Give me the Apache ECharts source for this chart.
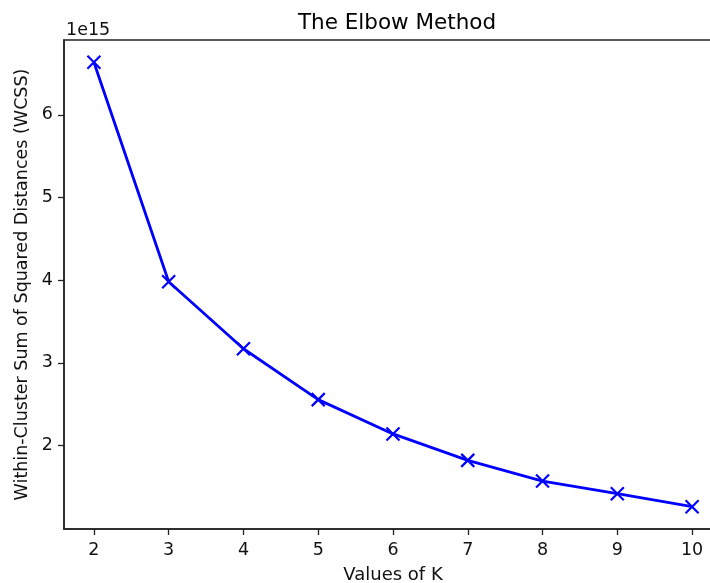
<!DOCTYPE html>
<html lang="en">
<head>
    <meta charset="UTF-8">
    <title>The Elbow Method</title>
    <script src="https://cdn.jsdelivr.net/npm/echarts@6/dist/echarts.min.js"></script>
    <style type="text/css">
        html, body {
            margin: 0;
            padding: 0;
            background: #fff;
        }

        #elbow-chart {
            width: 710px;
            height: 583px;
        }
    </style>
</head>
<body>
<div id="elbow-chart"></div>
<script type="text/javascript">
    // K values tried and the WCSS for each one (in units of 1e15)
    const kValues = [2, 3, 4, 5, 6, 7, 8, 9, 10];
    const wcss = [6.636, 3.98, 3.17, 2.555, 2.14, 1.82, 1.57, 1.417, 1.26];
    const xTicks = [2, 3, 4, 5, 6, 7, 8, 9, 10];
    const yTicks = [2, 3, 4, 5, 6];
    const xRange = [1.6, 10.4];
    const yRange = [0.99, 6.905];
    const offsetText = "1e15";

    const FONT = "DejaVu Sans";
    const chart = echarts.init(document.getElementById("elbow-chart"));

    const points = kValues.map((k, i) => [k, wcss[i]]);

    chart.setOption({
        animation: false,
        backgroundColor: "#fff",
        title: [{
            text: "The Elbow Method",
            left: 392,
            top: 7,
            textAlign: "center",
            textStyle: {fontFamily: FONT, fontSize: 21.5, fontWeight: "normal", color: "#000"}
        }, {
            text: offsetText,
            left: 61,
            top: 16,
            textStyle: {fontFamily: FONT, fontSize: 17.5, fontWeight: "normal", color: "#111"}
        }],
        grid: {
            left: 64,
            top: 40,
            bottom: 54,
            right: -12,
            show: true,
            borderColor: "#222",
            borderWidth: 1.5,
            outerBoundsMode: "none"
        },
        xAxis: {
            type: "value",
            min: xRange[0],
            max: xRange[1],
            name: "Values of K",
            nameLocation: "middle",
            nameGap: 37,
            nameTextStyle: {fontFamily: FONT, fontSize: 18, color: "#111"},
            splitLine: {show: false},
            axisLine: {show: true, lineStyle: {color: "#222", width: 1.5}},
            axisTick: {show: true, length: 6, customValues: xTicks, lineStyle: {color: "#222", width: 1.3}},
            axisLabel: {
                customValues: xTicks,
                margin: 12,
                fontFamily: FONT,
                fontSize: 17.5,
                color: "#111"
            }
        },
        yAxis: {
            type: "value",
            min: yRange[0],
            max: yRange[1],
            name: "Within-Cluster Sum of Squared Distances (WCSS)",
            nameLocation: "middle",
            nameRotate: 90,
            nameGap: 33,
            nameTextStyle: {fontFamily: FONT, fontSize: 17.5, color: "#111"},
            splitLine: {show: false},
            axisLine: {show: true, lineStyle: {color: "#222", width: 1.5}},
            axisTick: {show: true, length: 6, customValues: yTicks, lineStyle: {color: "#222", width: 1.3}},
            axisLabel: {
                customValues: yTicks,
                margin: 11,
                fontFamily: FONT,
                fontSize: 17.5,
                color: "#111"
            }
        },
        series: [{
            type: "line",
            data: points,
            symbol: "path://M0,0L10,10M10,0L0,10",
            symbolSize: 13,
            showAllSymbol: true,
            lineStyle: {color: "#0000ff", width: 2.8},
            itemStyle: {color: "#0000ff", borderColor: "#0000ff", borderWidth: 2.2},
            emphasis: {disabled: true}
        }]
    });
</script>
</body>
</html>
